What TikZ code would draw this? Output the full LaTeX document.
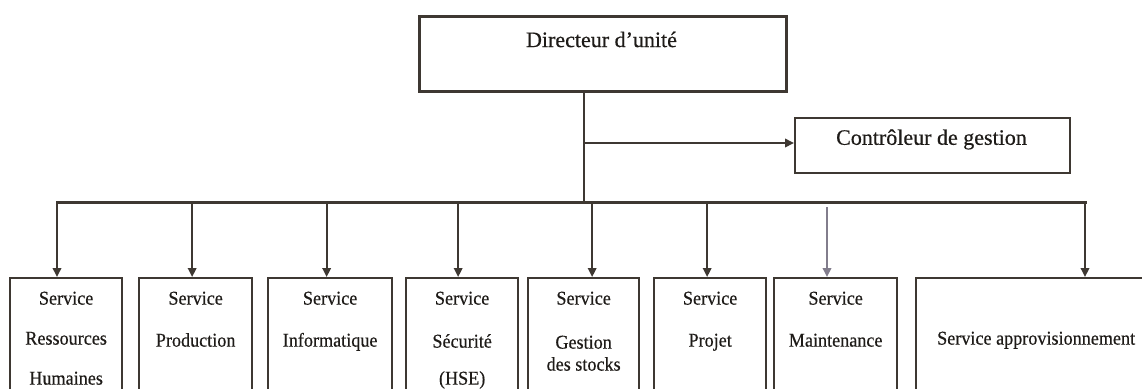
\documentclass[tikz,border=0pt]{standalone}
\usepackage{fontspec}
\setmainfont{Liberation Serif}[FakeBold=0.4]
\newfontfamily\headfont[FakeBold=0.5]{Liberation Serif}
\newfontfamily\svcfont[FakeStretch=0.93,FakeBold=0.4]{Liberation Serif}
\usetikzlibrary{arrows.meta}
\definecolor{ink}{RGB}{62,56,50}
\definecolor{txt}{RGB}{30,27,24}
\definecolor{pale}{RGB}{130,125,140}
\tikzset{
  frame/.style={draw=ink, line width=2.3pt, fill=white, inner sep=0pt},
  headtext/.style={text=txt, font=\headfont\fontsize{22}{26}\selectfont, inner sep=0pt},
  svctext/.style={text=txt, font=\svcfont\fontsize{19.5}{22}\selectfont,
    align=center, inner sep=0pt, anchor=north},
  svcbox/.style={frame, anchor=north west, minimum height=140pt},
  link/.style={draw=ink, line width=1.9pt},
  busline/.style={draw=ink, line width=3pt, line cap=rect},
  tip/.style={-{Triangle[length=9pt,width=8.5pt]}},
}
\begin{document}
\begin{tikzpicture}[x=1pt,y=-1pt]
\useasboundingbox (0,0) rectangle (1142,388);
\clip (0,0) rectangle (1142,388);

% head of the unit and management control
\node[frame, line width=2.8pt, anchor=north west, minimum width=367pt, minimum height=75pt] (dir) at (418,15) {};
\node[headtext] (dirlabel) at (601.5,39.5) {Directeur d’unité};

\node[frame, anchor=north west, minimum width=275pt, minimum height=55pt] (ctrl) at (794,117) {};
\node[headtext] (ctrllabel) at (931.5,139.5) {Contrôleur de gestion};

% services
\node[svcbox, minimum width=112pt] (s1) at (9,277) {};
\node[svcbox, minimum width=113pt] (s2) at (138,277) {};
\node[svcbox, minimum width=124pt] (s3) at (267,277) {};
\node[svcbox, minimum width=112pt] (s4) at (405,277) {};
\node[svcbox, minimum width=111pt] (s5) at (527,277) {};
\node[svcbox, minimum width=112pt] (s6) at (653,277) {};
\node[svcbox, minimum width=123pt] (s7) at (773,277) {};
\node[svcbox, minimum width=240pt] (s8) at (915,277) {};

\node[svctext, yshift=-14.5pt] (t1) at (s1.north) {Service\\[18pt]Ressources\\[18pt]Humaines};
\node[svctext, yshift=-14.5pt] (t2) at (s2.north) {Service\\[20pt]Production};
\node[svctext, yshift=-14.5pt] (t3) at (s3.north) {Service\\[20pt]Informatique};
\node[svctext, yshift=-14.5pt] (t4) at (s4.north) {Service\\[21pt]Sécurité\\[15pt](HSE)};
\node[svctext, yshift=-14.5pt] (t5) at (s5.north) {Service\\[22pt]Gestion\\des stocks};
\node[svctext, yshift=-14.5pt] (t6) at (s6.north) {Service\\[20pt]Projet};
\node[svctext, yshift=-14.5pt] (t7) at (s7.north) {Service\\[20pt]Maintenance};
\node[svctext, yshift=-54.5pt] (t8) at (s8.north) {Service approvisionnement};

% connectors
\coordinate (hub) at (584,202);
\coordinate (fork) at (584,143);
\coordinate (busL) at (57,202);
\coordinate (busR) at (1085,202);
\coordinate (m7) at (827,207);

\draw[link] (dir.south -| hub) -- (hub);
\draw[link, tip] (fork) -- (fork -| ctrl.west);
\draw[busline] (busL) -- (busR);

\draw[link, tip] (busL) -- (busL |- s1.north);
\draw[link, tip] ([xshift=-3.5pt]s2.north |- hub) -- ([xshift=-3.5pt]s2.north);
\draw[link, tip] ([xshift=-3.5pt]s3.north |- hub) -- ([xshift=-3.5pt]s3.north);
\draw[link, tip] ([xshift=-4pt]s4.north |- hub) -- ([xshift=-4pt]s4.north);
\draw[link, tip] ([xshift=8.5pt]s5.north |- hub) -- ([xshift=8.5pt]s5.north);
\draw[link, tip] ([xshift=-3pt]s6.north |- hub) -- ([xshift=-3pt]s6.north);
\draw[link, draw=pale, tip] (m7) -- (m7 |- s7.north);
\draw[link, tip] (busR) -- (busR |- s8.north);
\end{tikzpicture}
\end{document}
